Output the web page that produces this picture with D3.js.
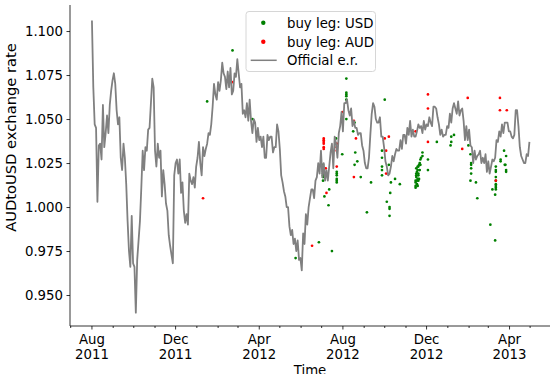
<!DOCTYPE html>
<html>
<head>
<meta charset="utf-8">
<script src="https://cdn.jsdelivr.net/npm/d3@7/dist/d3.min.js"></script>
<style>
  html, body { margin: 0; padding: 0; background: #fff; }
  svg { display: block; font-family: "DejaVu Sans", sans-serif; }
</style>
</head>
<body>
<svg id="chart" width="552" height="374"></svg>
<script>
// Official AUD/USD rate, one reading every second day from 1 Aug 2011
const rateStart = "2011-08-01";
const rateStepDays = 2;
const rateValues = [
  1.106, 1.068, 1.047, 1.045, 1.003, 1.035, 1.036, 1.027, 1.058, 1.034, 1.042, 1.052, 1.042, 1.058, 1.066, 1.072, 1.076, 1.070, 1.055, 1.047,
  1.051, 1.028, 1.021, 1.036, 1.028, 1.013, 0.992, 0.975, 0.966, 0.995, 0.968, 0.966, 0.940, 0.970, 0.981, 0.992, 1.011, 1.032, 1.021, 1.034,
  1.032, 1.044, 1.045, 1.059, 1.073, 1.068, 1.032, 1.023, 1.036, 1.028, 1.032, 1.006, 1.021, 1.013, 1.002, 0.998, 0.984, 0.978, 0.973, 0.968,
  1.018, 1.025, 1.027, 1.019, 1.027, 1.008, 1.014, 0.998, 0.991, 0.996, 0.990, 1.019, 1.015, 1.013, 1.017, 1.011, 1.023, 1.028, 1.037, 1.025,
  1.018, 1.034, 1.029, 1.033, 1.036, 1.042, 1.041, 1.047, 1.057, 1.070, 1.064, 1.061, 1.071, 1.066, 1.072, 1.082, 1.076, 1.074, 1.067, 1.077,
  1.068, 1.079, 1.064, 1.066, 1.076, 1.074, 1.084, 1.076, 1.068, 1.070, 1.053, 1.055, 1.051, 1.059, 1.049, 1.061, 1.049, 1.042, 1.050, 1.048,
  1.037, 1.045, 1.038, 1.040, 1.034, 1.040, 1.028, 1.028, 1.041, 1.038, 1.040, 1.040, 1.031, 1.034, 1.034, 1.047, 1.043, 1.033, 1.018, 1.014,
  1.009, 1.006, 1.000, 1.000, 0.989, 0.984, 0.987, 0.979, 0.982, 0.975, 0.981, 0.970, 0.971, 0.964, 0.985, 0.979, 0.996, 0.990, 1.000, 1.005,
  1.010, 1.010, 1.005, 1.015, 1.017, 1.025, 1.019, 1.032, 1.017, 1.025, 1.015, 1.021, 1.015, 1.023, 1.031, 1.036, 1.022, 1.040, 1.036, 1.028,
  1.042, 1.046, 1.054, 1.043, 1.059, 1.059, 1.061, 1.055, 1.052, 1.056, 1.046, 1.049, 1.045, 1.045, 1.041, 1.042, 1.042, 1.035, 1.032, 1.025,
  1.022, 1.022, 1.028, 1.041, 1.053, 1.059, 1.057, 1.050, 1.048, 1.048, 1.051, 1.040, 1.040, 1.034, 1.026, 1.023, 1.018, 1.019, 1.023, 1.029,
  1.026, 1.030, 1.033, 1.032, 1.032, 1.038, 1.033, 1.041, 1.041, 1.036, 1.045, 1.041, 1.049, 1.040, 1.044, 1.040, 1.040, 1.043, 1.047, 1.045,
  1.046, 1.042, 1.049, 1.044, 1.047, 1.046, 1.051, 1.048, 1.046, 1.057, 1.057, 1.056, 1.051, 1.047, 1.041, 1.044, 1.040, 1.041, 1.041, 1.046,
  1.045, 1.053, 1.048, 1.056, 1.059, 1.056, 1.053, 1.060, 1.052, 1.055, 1.056, 1.049, 1.038, 1.046, 1.038, 1.044, 1.035, 1.034, 1.025, 1.032,
  1.027, 1.029, 1.030, 1.032, 1.025, 1.028, 1.025, 1.030, 1.020, 1.026, 1.019, 1.023, 1.027, 1.026, 1.028, 1.038, 1.037, 1.043, 1.040, 1.047,
  1.042, 1.048, 1.048, 1.048, 1.043, 1.043, 1.040, 1.039, 1.041, 1.055, 1.055, 1.046, 1.034, 1.029, 1.027, 1.025, 1.025, 1.030, 1.029, 1.037
];

// Trades where the buy leg was USD
const usdDates = [
  "2012-01-16", "2012-02-22", "2012-03-22", "2012-05-24", "2012-06-27", "2012-07-16",
  "2012-07-03", "2012-07-03", "2012-07-03", "2012-07-03", "2012-07-03", "2012-07-03", "2012-07-03", "2012-07-03",
  "2012-07-05", "2012-07-12", "2012-07-11", "2012-07-22",
  "2012-07-23", "2012-07-23", "2012-07-23", "2012-07-23", "2012-07-23", "2012-07-23",
  "2012-07-31", "2012-08-06", "2012-08-06", "2012-08-06", "2012-08-06", "2012-08-06", "2012-08-06",
  "2012-08-18", "2012-08-16", "2012-08-19", "2012-08-22", "2012-08-18", "2012-08-27", "2012-09-11", "2012-09-05",
  "2012-10-01", "2012-09-27", "2012-09-27", "2012-09-27", "2012-09-27", "2012-09-27",
  "2012-10-07", "2012-10-10", "2012-10-16", "2012-10-23", "2012-10-09", "2012-10-04", "2012-10-08", "2012-10-08", "2012-10-08",
  "2012-11-25", "2012-11-25", "2012-11-23", "2012-11-22", "2012-11-21", "2012-11-20", "2012-11-22", "2012-11-19",
  "2012-11-18", "2012-11-21", "2012-11-17", "2012-11-19", "2012-11-16", "2012-11-19", "2012-11-16", "2012-11-18",
  "2012-11-15", "2012-11-17", "2012-11-15", "2012-11-17", "2012-11-15", "2012-11-15", "2012-11-18", "2012-11-16",
  "2012-11-20", "2012-11-16", "2012-11-18", "2012-11-19",
  "2012-12-03", "2012-12-03", "2012-12-16", "2013-01-10", "2013-01-06", "2013-01-06", "2013-01-05",
  "2013-01-31", "2013-02-03", "2013-02-03", "2013-02-04", "2013-02-04", "2013-02-04", "2013-02-04", "2013-02-11", "2013-02-13",
  "2013-03-24", "2013-03-27", "2013-03-27", "2013-03-27", "2013-03-19", "2013-03-19", "2013-03-25", "2013-03-26",
  "2013-03-12", "2013-03-12", "2013-03-12", "2013-03-12", "2013-03-12", "2013-03-12", "2013-03-12", "2013-03-12", "2013-03-12",
  "2013-03-07", "2013-03-11", "2013-03-11", "2013-03-04"
];
const usdRates = [
  1.060, 1.089, 1.050, 0.971, 0.980, 0.975,
  1.024, 1.023, 1.021, 1.020, 1.019, 1.018, 1.017, 1.015,
  1.006, 1.010, 1.001, 1.039,
  1.020, 1.019, 1.018, 1.016, 1.015, 1.014,
  1.030, 1.073, 1.065, 1.064, 1.063, 1.061, 1.050,
  1.048, 1.043, 1.031, 1.026, 1.024, 1.017, 1.014, 0.997,
  1.061, 1.032, 1.028, 1.023, 1.021, 1.018,
  1.024, 1.014, 1.016, 1.013, 1.008, 1.003, 1.000, 0.999, 0.995,
  1.031, 1.029, 1.028, 1.027, 1.025, 1.024, 1.024, 1.023,
  1.021, 1.021, 1.020, 1.019, 1.019, 1.018, 1.017, 1.016,
  1.015, 1.015, 1.014, 1.013, 1.012, 1.011, 1.023, 1.022,
  1.016, 1.018, 1.012, 1.015,
  1.027, 1.021, 1.037, 1.041, 1.040, 1.037, 1.035,
  1.035, 1.030, 1.015, 1.025, 1.024, 1.022, 1.019, 1.014, 1.005,
  1.032, 1.029, 1.021, 1.020, 1.027, 1.026, 1.024, 1.024,
  1.023, 1.021, 1.020, 1.017, 1.015, 1.013, 1.012, 1.011, 1.010,
  1.010, 1.007, 0.981, 0.990
];

// Trades where the buy leg was AUD
const audDates = [
  "2012-01-10", "2012-02-22", "2012-06-17",
  "2012-07-04", "2012-07-04", "2012-07-04", "2012-07-04", "2012-07-04", "2012-07-04",
  "2012-07-07", "2012-07-08", "2012-07-23", "2012-07-23", "2012-07-23", "2012-07-23", "2012-07-31",
  "2012-08-17", "2012-08-20", "2012-08-17", "2012-10-01", "2012-10-07", "2012-10-03", "2012-10-03",
  "2012-11-15", "2012-12-03", "2012-12-03", "2012-12-03", "2013-01-22", "2013-01-30",
  "2013-03-12", "2013-03-18", "2013-03-18", "2013-03-28"
];
const audRates = [
  1.005, 1.071, 0.978,
  1.039, 1.038, 1.037, 1.036, 1.034, 1.033,
  1.022, 1.008, 1.036, 1.034, 1.032, 1.023, 1.054,
  1.049, 1.039, 1.017, 1.039, 1.040, 1.032, 1.019,
  1.043, 1.064, 1.056, 1.037, 1.033, 1.062,
  1.015, 1.062, 1.055, 1.055
];

const yTickValues = [0.950, 0.975, 1.000, 1.025, 1.050, 1.075, 1.100];
const legendLabels = ["buy leg: USD", "buy leg: AUD", "Official e.r."];

const parse = d3.utcParse("%Y-%m-%d");
const t0 = parse(rateStart);
const rateSeries = rateValues.map((v, i) => ({ date: d3.utcDay.offset(t0, i * rateStepDays), value: v }));
const usdPoints = usdDates.map((d, i) => ({ date: parse(d), value: usdRates[i] }));
const audPoints = audDates.map((d, i) => ({ date: parse(d), value: audRates[i] }));

const svg = d3.select("#chart");
const plot = { left: 70, right: 550, top: 5, bottom: 326 };
const fontSize = 13.3;

const firstDate = rateSeries[0].date;
const lastDate = rateSeries[rateSeries.length - 1].date;
const x = d3.scaleUtc()
  .domain([d3.utcDay.offset(firstDate, -32), d3.utcDay.offset(lastDate, 30)])
  .range([plot.left, plot.right]);
const y = d3.scaleLinear()
  .domain([0.9324, 1.1148])
  .range([plot.bottom, plot.top]);

// Scatter markers: USD buys, then AUD buys
svg.append("g").selectAll("circle").data(usdPoints).join("circle")
  .attr("cx", d => x(d.date)).attr("cy", d => y(d.value)).attr("r", 1.35)
  .attr("fill", "#008000");
svg.append("g").selectAll("circle").data(audPoints).join("circle")
  .attr("cx", d => x(d.date)).attr("cy", d => y(d.value)).attr("r", 1.35)
  .attr("fill", "#ff0000");

// Official exchange rate line
svg.append("path").datum(rateSeries)
  .attr("fill", "none").attr("stroke", "#808080").attr("stroke-width", 1.8)
  .attr("stroke-linejoin", "round")
  .attr("d", d3.line().x(d => x(d.date)).y(d => y(d.value)));

// Y axis
const yAxis = d3.axisLeft(y).tickValues(yTickValues).tickFormat(d3.format(".3f"))
  .tickSize(3.5).tickPadding(3.5);
const gy = svg.append("g").attr("transform", `translate(${plot.left},0)`).call(yAxis);
gy.select(".domain").attr("d", `M0,${plot.top}V${plot.bottom}`).attr("stroke", "#000").attr("stroke-width", 0.8);
gy.selectAll(".tick line").attr("stroke", "#000").attr("stroke-width", 0.8);
gy.selectAll(".tick text").attr("font-size", fontSize).attr("font-family", "DejaVu Sans").attr("fill", "#000");

// X axis: monthly minor ticks, labels every four months
const gx = svg.append("g").attr("transform", `translate(0,${plot.bottom})`);
gx.append("path").attr("d", `M${plot.left},0H${plot.right}`).attr("stroke", "#000").attr("stroke-width", 0.8);
const months = d3.utcMonth.range(x.domain()[0], x.domain()[1]);
gx.selectAll("line.minor").data(months).join("line")
  .attr("x1", d => x(d)).attr("x2", d => x(d)).attr("y1", 0)
  .attr("y2", d => (d.getUTCMonth() % 4 === 3) ? 3.5 : 2)
  .attr("stroke", "#000").attr("stroke-width", 0.8);
const majors = months.filter(d => d.getUTCMonth() % 4 === 3);
const fmtMonth = d3.utcFormat("%b"), fmtYear = d3.utcFormat("%Y");
const lbl = gx.selectAll("text.tick").data(majors).join("text")
  .attr("text-anchor", "middle").attr("font-size", fontSize).attr("fill", "#000");
lbl.append("tspan").attr("x", d => x(d)).attr("y", 17.5).text(d => fmtMonth(d));
lbl.append("tspan").attr("x", d => x(d)).attr("y", 33).text(d => fmtYear(d));

// Axis titles
svg.append("text").attr("x", (plot.left + plot.right) / 2).attr("y", 374.5)
  .attr("text-anchor", "middle").attr("font-size", fontSize).text("Time");
svg.append("text").attr("transform", "translate(16,137.5) rotate(-90)")
  .attr("text-anchor", "middle").attr("font-size", 14.7).text("AUDtoUSD exchange rate");

// Legend
const lg = svg.append("g").attr("transform", "translate(246,11.5)");
lg.append("rect").attr("width", 129.5).attr("height", 60).attr("rx", 3)
  .attr("fill", "#fff").attr("fill-opacity", 0.8).attr("stroke", "#d6d6d6").attr("stroke-width", 1);
const rowY = [11.2, 30.2, 48.8];
lg.append("circle").attr("cx", 17.3).attr("cy", rowY[0]).attr("r", 2.2).attr("fill", "#008000");
lg.append("circle").attr("cx", 17.3).attr("cy", rowY[1]).attr("r", 2.2).attr("fill", "#ff0000");
lg.append("line").attr("x1", 4.7).attr("x2", 30.7).attr("y1", rowY[2]).attr("y2", rowY[2])
  .attr("stroke", "#808080").attr("stroke-width", 1.5);
lg.selectAll("text").data(legendLabels).join("text")
  .attr("x", 41).attr("y", (d, i) => rowY[i] + 4.8).attr("font-size", fontSize).text(d => d);
</script>
</body>
</html>
